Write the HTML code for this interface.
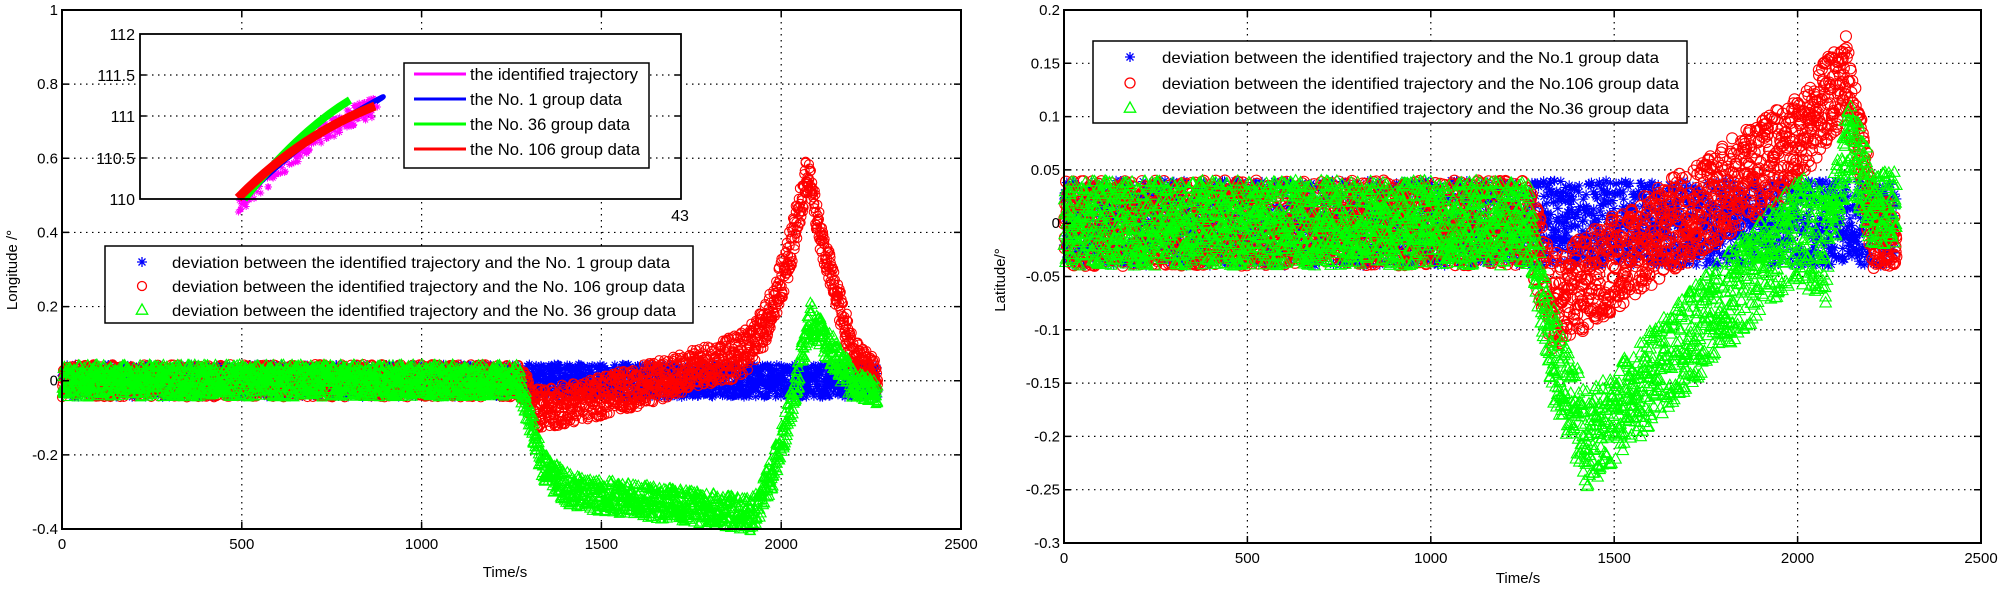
<!DOCTYPE html>
<html><head><meta charset="utf-8">
<style>
html,body{margin:0;padding:0;background:#fff;}
svg{display:block;}
text{font-family:"Liberation Sans",Arial,sans-serif;fill:#000;}
</style></head>
<body>
<svg id="s" width="2000" height="590" viewBox="0 0 2000 590" xmlns="http://www.w3.org/2000/svg">
<rect width="2000" height="590" fill="#fff"/>
<g id="g"></g>
</svg>
<script>
(function(){
var NS="http://www.w3.org/2000/svg", g=document.getElementById('g');
function el(t,a,p){var e=document.createElementNS(NS,t);for(var k in a)e.setAttribute(k,a[k]);(p||g).appendChild(e);return e;}
function txt(x,y,s,a){a=a||{};a.x=x;a.y=y;var e=el('text',a);e.textContent=s;return e;}
var seed=12345;function rnd(){seed=(seed*1103515245+12345)%2147483648;return seed/2147483648;}

function axes(P){
  var d='';
  P.xt.forEach(function(v){var x=P.X(v);d+='M'+x+' '+P.y0+'V'+P.y1;});
  P.yt.forEach(function(v){var y=P.Y(v);d+='M'+P.x0+' '+y+'H'+P.x1;});
  el('path',{d:d,stroke:'#000','stroke-width':1.2,'stroke-dasharray':'1.5 4.5',fill:'none'});
}
function frame(P){
  var d='';
  P.xt.forEach(function(v){var x=P.X(v);d+='M'+x+' '+P.y1+'v-7M'+x+' '+P.y0+'v7';});
  P.yt.forEach(function(v){var y=P.Y(v);d+='M'+P.x0+' '+y+'h7M'+P.x1+' '+y+'h-7';});
  el('path',{d:d,stroke:'#000','stroke-width':1.5,fill:'none'});
  el('rect',{x:P.x0,y:P.y0,width:P.x1-P.x0,height:P.y1-P.y0,fill:'none',stroke:'#000','stroke-width':2});
  P.xt.forEach(function(v){txt(P.X(v),P.y1+20,String(v),{'font-size':15,'text-anchor':'middle'});});
  P.yt.forEach(function(v){txt(P.x0-4,P.Y(v)+5,P.fmt(v),{'font-size':15,'text-anchor':'end'});});
}
function star(x,y,r){var a=r*0.7;return 'M'+(x-r)+' '+y+'h'+2*r+'M'+x+' '+(y-r)+'v'+2*r+'M'+(x-a)+' '+(y-a)+'l'+2*a+' '+2*a+'M'+(x-a)+' '+(y+a)+'l'+2*a+' '+(-2*a);}
function circ(x,y,r){return 'M'+(x-r)+' '+y+'a'+r+' '+r+' 0 1 0 '+2*r+' 0a'+r+' '+r+' 0 1 0 '+(-2*r)+' 0';}
function tri(x,y,r){return 'M'+x+' '+(y-r)+'L'+(x+r*0.95)+' '+(y+r*0.7)+'H'+(x-r*0.95)+'Z';}
function series(P,f,col,shape,r,step,tmax){
  var d='';
  for(var t=0;t<=tmax;t+=step){
    var v=f(t), c=v[0], h=v[1];
    var y=c+(rnd()*2-1)*h;
    var x=P.X(t+(rnd()-0.5)*step);
    var Y=P.Y(y);
    if(shape==='s')d+=star(x,Y,r);else if(shape==='c')d+=circ(x,Y,r);else d+=tri(x,Y,r);
  }
  el('path',{d:d,stroke:col,'stroke-width':1.1,fill:'none'});
}
function lerp(a,b,u){return a+(b-a)*u;}

/* ---------- LEFT PLOT ---------- */
var L={x0:62,x1:961,y0:10,y1:529};
L.X=function(t){return L.x0+t*(L.x1-L.x0)/2500;};
L.Y=function(v){return L.y1-(v+0.4)*(L.y1-L.y0)/1.4;};
L.xt=[0,500,1000,1500,2000,2500];L.yt=[-0.4,-0.2,0,0.2,0.4,0.6,0.8,1];
L.fmt=function(v){return v===0?'0':(v===1?'1':String(v));};
axes(L);
var blueL=function(t){return [0,0.045];};
var redL=function(t){
  if(t<1270)return[0,0.045];
  if(t<1320)return[lerp(0,-0.075,(t-1270)/50),0.05];
  if(t<1850)return[-0.075+0.135*Math.pow((t-1320)/530,1.3),0.055];
  if(t<2075)return[0.06+0.51*Math.pow((t-1850)/225,2.2),0.06];
  if(t<2200)return[lerp(0.57,0.08,Math.pow((t-2075)/125,0.8)),0.05];
  return[lerp(0.08,0.01,(t-2200)/70),0.04];
};
var greenL=function(t){
  if(t<1270)return[0,0.045];
  if(t<1340)return[lerp(0,-0.24,(t-1270)/70),0.045];
  if(t<1420)return[lerp(-0.24,-0.3,(t-1340)/80),0.045];
  if(t<1910)return[lerp(-0.3,-0.36,(t-1420)/490),0.045];
  if(t<2080)return[-0.36+0.53*Math.pow((t-1910)/170,1.6),0.05];
  if(t<2200)return[lerp(0.17,-0.01,(t-2080)/120),0.05];
  return[lerp(-0.01,-0.03,(t-2200)/70),0.035];
};
series(L,blueL,'#0000ff','s',4.5,0.8,2270);
series(L,redL,'#ff0000','c',4.5,0.8,2270);
series(L,greenL,'#00ff00','t',5,0.8,2270);
frame(L);
txt(505,577,'Time/s',{'font-size':15,'text-anchor':'middle'});
txt(0,0,'Longitude /°',{'font-size':15,'text-anchor':'middle',transform:'translate(17,270) rotate(-90)'});

/* inset */
el('rect',{x:140,y:34,width:541,height:165,fill:'#fff',stroke:'none'});
var idd='';[75,116,158].forEach(function(y){idd+='M140 '+y+'H681';});
el('path',{d:idd,stroke:'#000','stroke-width':1.2,'stroke-dasharray':'1.5 4.5',fill:'none'});
var sd='';
for(var i=0;i<260;i++){var u=rnd();var x=238+u*140;var y=199-99*(1-Math.pow(1-u,1.4))+ (rnd()*2-0.3)*10;sd+=star(x,y,3.5);}
el('path',{d:sd,stroke:'#ff00ff','stroke-width':1,fill:'none'});
el('path',{d:'M244 199 Q290 150 345 118 T376 102',stroke:'#0000ff','stroke-width':5,fill:'none'});
el('path',{d:'M244 199 Q300 130 350 100',stroke:'#00ff00','stroke-width':8,fill:'none'});
el('path',{d:'M238 198 Q300 135 375 106',stroke:'#ff0000','stroke-width':9,fill:'none'});
var id2='';[75,116,158].forEach(function(y){id2+='M140 '+y+'h6M681 '+y+'h-6';});
el('path',{d:id2,stroke:'#000','stroke-width':1.5,fill:'none'});
el('rect',{x:140,y:34,width:541,height:165,fill:'none',stroke:'#000','stroke-width':1.8});
[['112',34],['111.5',75],['111',116],['110.5',158],['110',199]].forEach(function(a){txt(135,a[1]+6,a[0],{'font-size':16,'text-anchor':'end'});});
txt(680,221,'43',{'font-size':16,'text-anchor':'middle'});
el('rect',{x:404,y:63,width:245,height:105,fill:'#fff',stroke:'#000','stroke-width':1.5});
[['the identified trajectory','#ff00ff',79,168],['the No. 1 group data','#0000ff',104,152],['the No. 36 group data','#00ff00',129,160],['the No. 106 group data','#ff0000',154,170]].forEach(function(a){
  el('line',{x1:414,x2:466,y1:a[2]-5,y2:a[2]-5,stroke:a[1],'stroke-width':3});
  txt(470,a[2]+1,a[0],{'font-size':17,textLength:a[3],lengthAdjust:'spacingAndGlyphs'});
});

/* main legend left */
el('rect',{x:105,y:246,width:588,height:77,fill:'#fff',stroke:'#000','stroke-width':1.5});
var lg=[['deviation between the identified trajectory and the No. 1 group data',262,'s','#0000ff',498],
        ['deviation between the identified trajectory and the No. 106 group data',286,'c','#ff0000',513],
        ['deviation between the identified trajectory and the No. 36 group data',310,'t','#00ff00',504]];
lg.forEach(function(a){
  var d=a[2]==='s'?star(142,a[1],5):a[2]==='c'?circ(142,a[1],4.5):tri(142,a[1],6);
  el('path',{d:d,stroke:a[3],'stroke-width':1.3,fill:'none'});
  txt(172,a[1]+6,a[0],{'font-size':16,textLength:a[4],lengthAdjust:'spacingAndGlyphs'});
});

/* ---------- RIGHT PLOT ---------- */
var R={x0:1064,x1:1981,y0:10,y1:543};
R.X=function(t){return R.x0+t*(R.x1-R.x0)/2500;};
R.Y=function(v){return R.y1-(v+0.3)*(R.y1-R.y0)/0.5;};
R.xt=[0,500,1000,1500,2000,2500];R.yt=[-0.3,-0.25,-0.2,-0.15,-0.1,-0.05,0,0.05,0.1,0.15,0.2];
R.fmt=function(v){return v===0?'0':String(Math.round(v*100)/100);};
axes(R);
var blueR=function(t){return[0,0.04];};
var redR=function(t){
  if(t<1270)return[0,0.04];
  if(t<1330)return[lerp(0,-0.075,(t-1270)/60),0.04];
  if(t<2000)return[-0.075+0.15*(t-1330)/670,0.045];
  if(t<2130)return[lerp(0.075,0.14,(t-2000)/130),0.04];
  if(t<2210)return[lerp(0.14,-0.01,(t-2130)/80),0.04];
  return[-0.01,0.03];
};
var greenR=function(t){
  if(t<1270)return[0,0.04];
  if(t<1330)return[lerp(0,-0.12,(t-1270)/60),0.035];
  if(t<1430)return[lerp(-0.12,-0.205,(t-1330)/100),0.045];
  if(t<2000)return[-0.205+0.2*(t-1430)/570,0.045];
  if(t<2080)return[lerp(-0.01,-0.02,(t-2000)/80),0.055];
  if(t<2140)return[lerp(-0.02,0.08,(t-2080)/60),0.035];
  if(t<2200)return[lerp(0.08,0.02,(t-2140)/60),0.04];
  return[0.015,0.035];
};
series(R,blueR,'#0000ff','s',5,0.8,2270);
series(R,redR,'#ff0000','c',5.5,0.8,2270);
series(R,greenR,'#00ff00','t',6,0.8,2270);
frame(R);
txt(1518,583,'Time/s',{'font-size':15,'text-anchor':'middle'});
txt(0,0,'Latitude/°',{'font-size':15,'text-anchor':'middle',transform:'translate(1005,280) rotate(-90)'});
el('rect',{x:1093,y:41,width:594,height:82,fill:'#fff',stroke:'#000','stroke-width':1.5});
var lg2=[['deviation between the identified trajectory and the No.1 group data',57,'s','#0000ff',497],
         ['deviation between the identified trajectory and the No.106 group data',83,'c','#ff0000',517],
         ['deviation between the identified trajectory and the No.36 group data',108,'t','#00ff00',507]];
lg2.forEach(function(a){
  var d=a[2]==='s'?star(1130,a[1],5):a[2]==='c'?circ(1130,a[1],5):tri(1130,a[1],6);
  el('path',{d:d,stroke:a[3],'stroke-width':1.3,fill:'none'});
  txt(1162,a[1]+6,a[0],{'font-size':16,textLength:a[4],lengthAdjust:'spacingAndGlyphs'});
});
})();
</script>
</body></html>
